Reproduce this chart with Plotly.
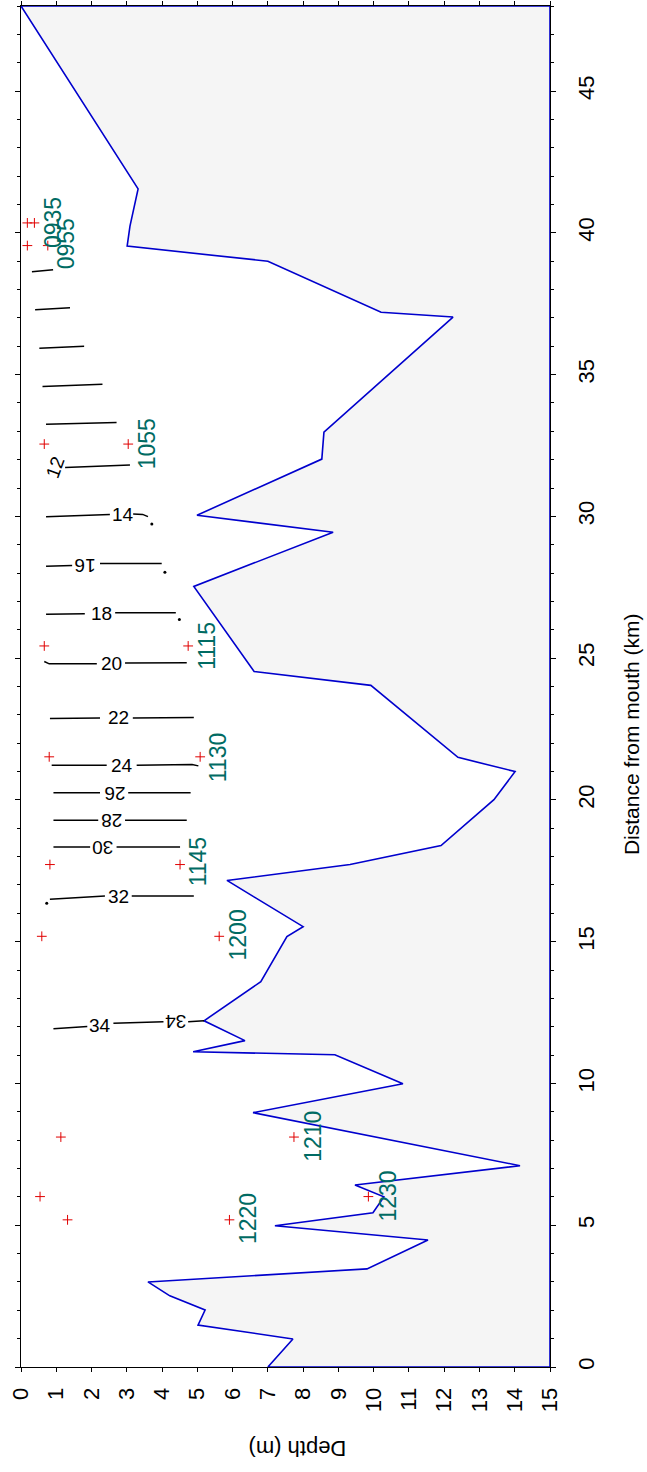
import plotly.graph_objects as go

# ---- bathymetry (depth in m, distance from mouth in km) ----
bed_depth = [7.0, 7.34, 7.71, 5.02, 5.22, 4.22, 3.60, 9.81, 11.54, 7.20, 9.98, 10.29, 9.47,
             14.15, 6.58, 10.83, 8.90, 4.88, 6.35, 5.19, 6.80, 7.54, 8.00, 5.84, 9.33, 11.91,
             13.41, 14.01, 12.39, 9.92, 6.61, 4.90, 8.85, 4.99, 8.53, 8.59, 12.25, 10.21, 7.00,
             3.01, 3.09, 3.32, 0.0]
bed_dist = [0.0, 0.49, 0.99, 1.48, 2.01, 2.51, 3.00, 3.46, 4.48, 4.98, 5.44, 6.00, 6.42,
            7.10, 8.97, 9.99, 11.01, 11.12, 11.51, 12.21, 13.59, 15.18, 15.53, 17.16, 17.72, 18.39,
            20.01, 21.00, 21.50, 24.04, 24.53, 27.53, 29.44, 30.04, 32.02, 32.97, 37.03, 37.20, 39.00,
            39.53, 40.24, 41.55, 48.0]

# ---- sampling stations (red crosses) ----
cross_depth = [0.18, 0.38, 0.18, 0.76, 0.66, 3.04, 0.66, 4.74, 0.80, 5.08, 0.82, 4.51,
               0.59, 5.62, 1.13, 7.74, 0.54, 9.85, 1.32, 5.91]
cross_dist = [40.35, 40.35, 39.55, 39.55, 32.55, 32.55, 25.43, 25.43, 21.52, 21.52, 17.72, 17.72,
              15.19, 15.19, 8.11, 8.11, 6.01, 6.01, 5.19, 5.19]

# ---- station time labels ----
station_text = ["0935", "0955", "1055", "1115", "1130", "1145", "1200", "1210", "1220", "1230"]
station_depth = [0.91, 1.28, 3.56, 5.27, 5.61, 5.02, 6.15, 8.28, 6.44, 10.40]
station_dist = [40.35, 39.60, 32.56, 25.43, 21.50, 17.80, 15.25, 8.12, 5.22, 6.04]

# ---- salinity contour segments (depth list, distance list) ----
contour_segments = [
    ([0.31, 0.91], [38.63, 38.70]),
    ([0.40, 1.39], [37.29, 37.36]),
    ([0.52, 1.79], [35.93, 36.00]),
    ([0.61, 2.31], [34.58, 34.66]),
    ([0.71, 2.71], [33.25, 33.31]),
    ([1.25, 3.09], [31.72, 31.81]),
    ([0.71, 2.52], [29.99, 30.07]),
    ([3.18, 3.45, 3.60], [30.08, 30.07, 29.99]),
    ([0.71, 1.45], [28.24, 28.27]),
    ([2.24, 3.99], [28.34, 28.34]),
    ([0.71, 1.81], [26.55, 26.57]),
    ([2.67, 4.39], [26.60, 26.60]),
    ([0.66, 0.80, 2.15], [24.88, 24.80, 24.80]),
    ([2.95, 4.70], [24.83, 24.84]),
    ([0.82, 2.24], [22.87, 22.89]),
    ([3.17, 4.90], [22.89, 22.91]),
    ([0.87, 2.43], [21.22, 21.22]),
    ([3.28, 4.85, 5.03], [21.22, 21.25, 21.20]),
    ([0.92, 2.24], [20.25, 20.25]),
    ([3.04, 4.81], [20.25, 20.25]),
    ([0.92, 2.19], [19.28, 19.28]),
    ([2.95, 4.70], [19.28, 19.28]),
    ([0.92, 1.96], [18.34, 18.34]),
    ([2.71, 4.51], [18.34, 18.34]),
    ([0.82, 2.38], [16.50, 16.61]),
    ([3.14, 4.90], [16.61, 16.61]),
    ([0.92, 1.88], [11.93, 12.01]),
    ([2.62, 4.04], [12.12, 12.18]),
    ([4.74, 5.19], [12.18, 12.21]),
]
contour_dot_depth = [3.71, 4.08, 4.49, 0.73]
contour_dot_dist = [29.73, 28.03, 26.36, 16.36]

contour_label_text = ["12", "14", "16", "18", "20", "22", "24", "26", "28", "30", "32", "34", "34"]
contour_label_depth = [0.97, 2.89, 1.81, 2.29, 2.57, 2.76, 2.86, 2.66, 2.57, 2.33, 2.76, 2.24, 4.37]
contour_label_dist = [31.72, 30.07, 28.27, 26.58, 24.81, 22.89, 21.22, 20.25, 19.28, 18.34, 16.61, 12.06, 12.18]
contour_label_angle = [-70, 0, 180, 0, 0, 0, 0, 180, 180, 180, 0, 0, 180]

FONT = "Liberation Sans, Arial, Helvetica, sans-serif"
BLUE = "#0000cd"

fig = go.Figure()

# bathymetry polygon (filled towards max depth)
poly_x = bed_depth + [15, 15, bed_depth[0]]
poly_y = bed_dist + [48, 0, bed_dist[0]]
fig.add_trace(go.Scatter(x=poly_x, y=poly_y, mode="lines", fill="toself",
                         fillcolor="#f5f5f5", line=dict(color=BLUE, width=1.6),
                         hoverinfo="skip", showlegend=False))

# contours
cx, cy = [], []
for dx, dy in contour_segments:
    cx += dx + [None]
    cy += dy + [None]
fig.add_trace(go.Scatter(x=cx, y=cy, mode="lines", line=dict(color="black", width=1.5),
                         hoverinfo="skip", showlegend=False))
fig.add_trace(go.Scatter(x=contour_dot_depth, y=contour_dot_dist, mode="markers",
                         marker=dict(color="black", size=3), hoverinfo="skip", showlegend=False))

# crosses
fig.add_trace(go.Scatter(x=cross_depth, y=cross_dist, mode="markers",
                         marker=dict(symbol="cross-thin", size=7, line=dict(color="#e00000", width=1)),
                         hoverinfo="skip", showlegend=False))

annotations = []
for t, d, s in zip(station_text, station_depth, station_dist):
    annotations.append(dict(x=d, y=s, xref="x", yref="y", text=t, showarrow=False,
                            xanchor="center", yanchor="middle",
                            textangle=-90, font=dict(family=FONT, size=23, color="#006b63")))
for t, d, s, a in zip(contour_label_text, contour_label_depth, contour_label_dist, contour_label_angle):
    annotations.append(dict(x=d, y=s, xref="x", yref="y", text=t, showarrow=False,
                            xanchor="center", yanchor="middle",
                            textangle=a, font=dict(family=FONT, size=19, color="black")))

annotations.append(dict(x=1.153, y=0.465, xref="paper", yref="paper", text="Distance from mouth (km)",
                        xanchor="center", yanchor="middle",
                        showarrow=False, textangle=-90, font=dict(family=FONT, size=21, color="black")))
annotations.append(dict(x=0.522, y=-0.0595, xref="paper", yref="paper", text="Depth (m)",
                        xanchor="center", yanchor="middle",
                        showarrow=False, textangle=180, font=dict(family=FONT, size=22, color="black")))

fig.update_layout(
    width=647, height=1472,
    margin=dict(l=21, r=97, t=6, b=105, autoexpand=False),
    paper_bgcolor="white", plot_bgcolor="white",
    showlegend=False,
    annotations=annotations,
    xaxis=dict(range=[0, 15], dtick=1, tick0=0, ticks="outside", ticklen=4, tickcolor="black",
               tickangle=-90, showline=True, linecolor="black", linewidth=1, mirror="ticks",
               showgrid=False, zeroline=False, automargin=False, ticklabelstandoff=7,
               tickfont=dict(family=FONT, size=22, color="black")),
    yaxis=dict(range=[0, 48], dtick=5, tick0=0, side="right", ticks="outside", ticklen=5,
               tickcolor="black", tickangle=-90, showline=True, linecolor="black", linewidth=1,
               mirror="ticks", showgrid=False, zeroline=False, automargin=False,
               ticklabelstandoff=12,
               minor=dict(dtick=1, ticks="outside", ticklen=3, tickcolor="black", showgrid=False),
               tickfont=dict(family=FONT, size=22, color="black")),
)

fig.write_html("out.html", config={"displayModeBar": False},
               post_script="document.body.style.margin='0px';")
